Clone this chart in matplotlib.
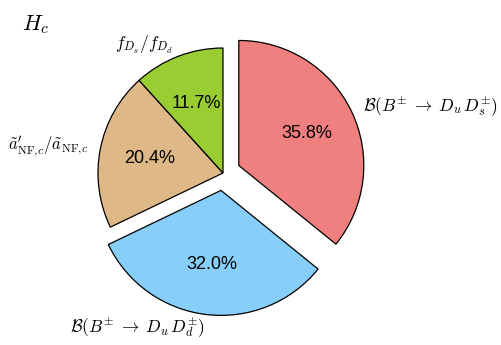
import matplotlib
matplotlib.use("Agg")
import matplotlib.pyplot as plt

plt.rcParams['mathtext.fontset'] = 'cm'
plt.rcParams['font.family'] = ['Liberation Sans', 'DejaVu Sans']

labels = [r'$\mathcal{B}(B^{\pm}\;\to\;D_u\,D_s^{\pm})$',
          r'$\mathcal{B}(B^{\pm}\;\to\;D_u\,D_d^{\pm})$',
          r"$\tilde{a}^{\prime}_{\mathrm{NF},\!c}/\tilde{a}_{\mathrm{NF},\!c}$",
          r'$f_{D_s}/f_{D_d}$']
values = [35.8, 32.0, 20.4, 11.7]
colors = ['lightcoral', 'lightskyblue', 'burlywood', 'yellowgreen']
explode = [0.14, 0.14, 0, 0]
title = r'$H_c$'

W, H = 501, 345
fig = plt.figure(figsize=(W/100, H/100), dpi=100)
ax = fig.add_axes([0, 0, 1, 1])
wedges, texts, autotexts = ax.pie(values, labels=labels, colors=colors, explode=explode,
       autopct='%1.1f%%', startangle=90, counterclock=False,
       wedgeprops=dict(edgecolor='black', linewidth=0.9),
       textprops=dict(fontsize=12.5))
for t in autotexts:
    t.set_fontsize(13)
texts[2].set_fontsize(12)
scale = 125.0
cx, cy = 223.0, 173.0
ax.set_aspect('auto')
ax.set_xlim(-cx/scale, (W-cx)/scale)
ax.set_ylim((cy-H)/scale, cy/scale)
ax.axis('off')
fig.text(22/W, 1-25/H, title, fontsize=16, ha='left', va='center')
fig.savefig('out.png', dpi=100)
